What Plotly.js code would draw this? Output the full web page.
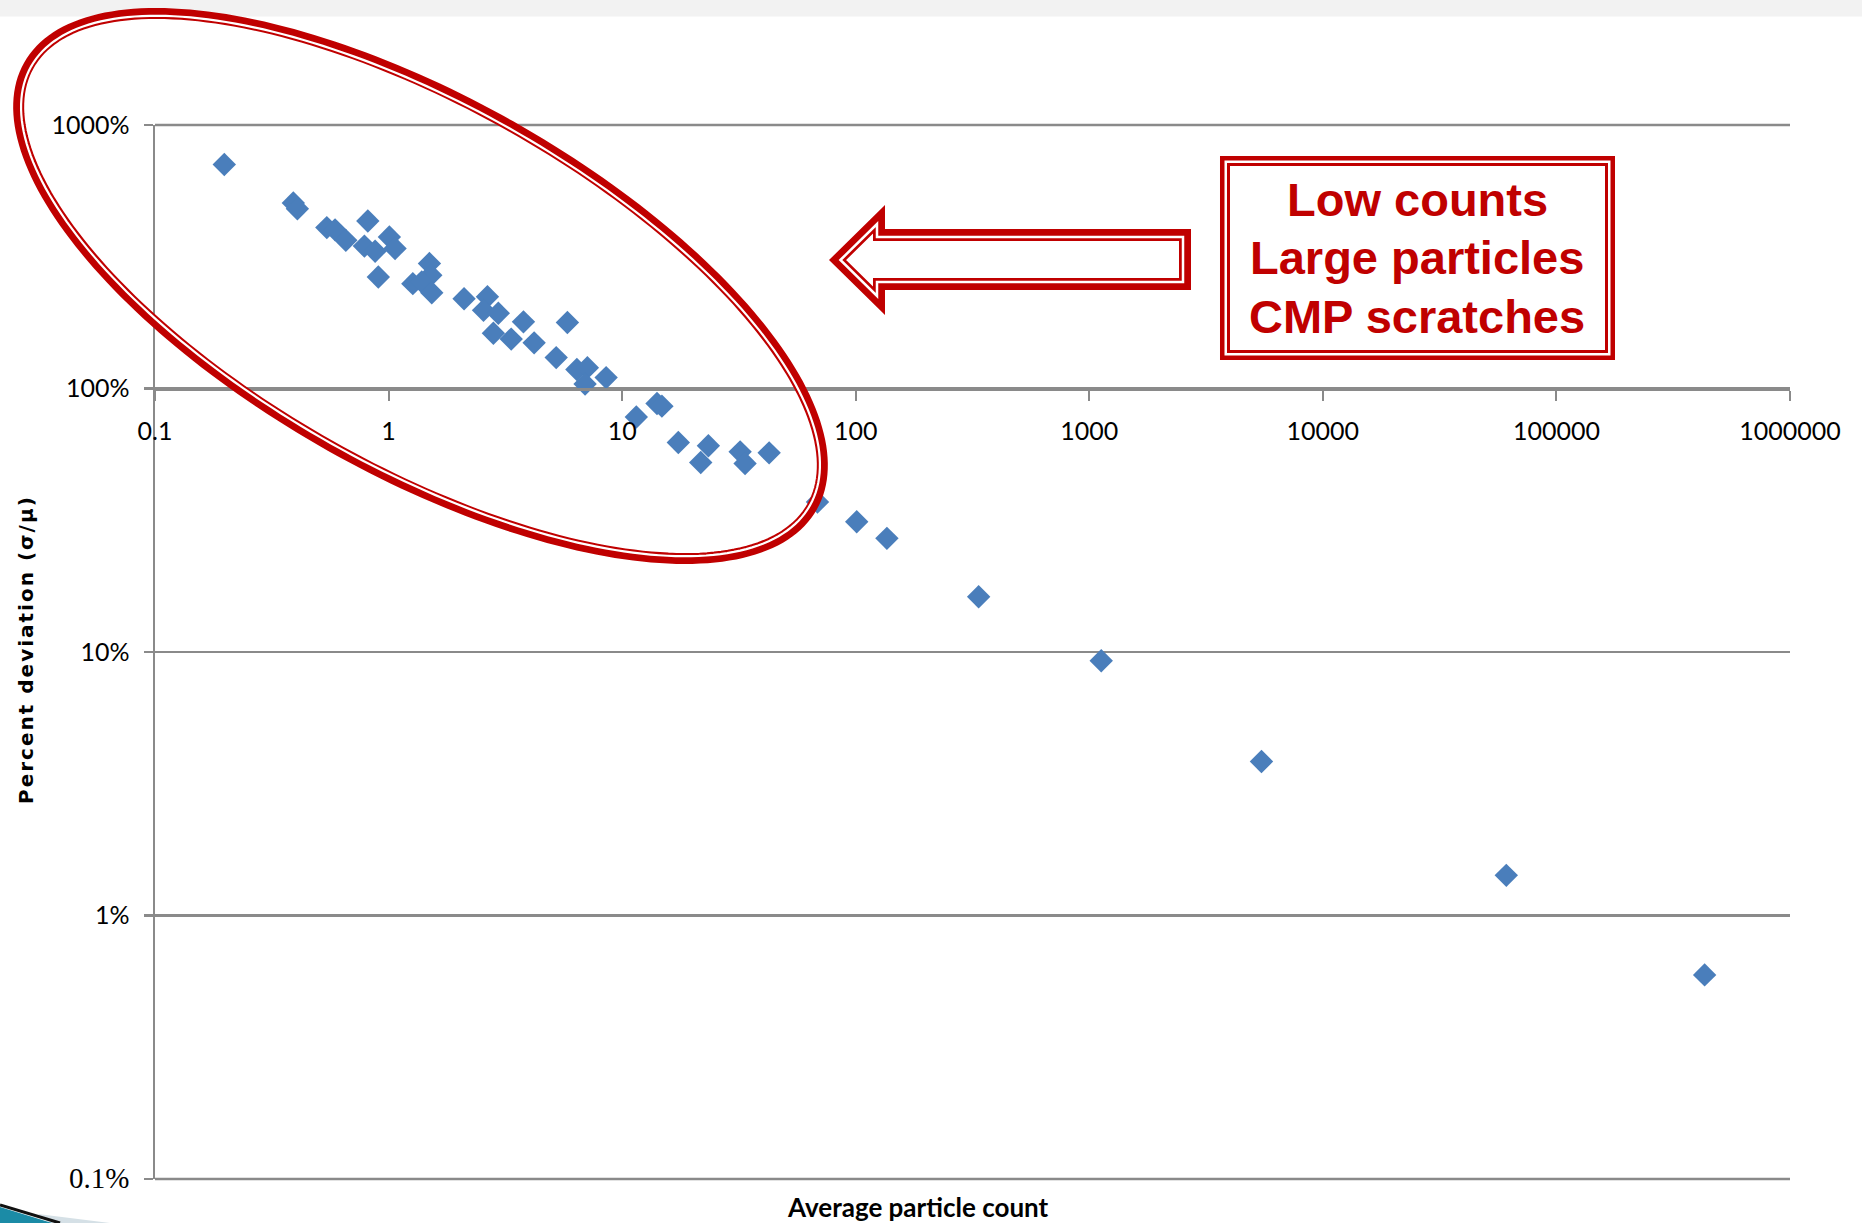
<!DOCTYPE html>
<html><head><meta charset="utf-8">
<script src="https://cdn.plot.ly/plotly-3.0.1.min.js"></script>
<style>
html,body{margin:0;padding:0;background:#fff;}
#chart{width:1862px;height:1223px;}
g.annotation[data-index="0"] text{letter-spacing:2px;}
</style>
</head><body><div id="chart"></div>
<script>
// ---- data ----
const avgCount = [0.198,0.391,0.407,0.544,0.590,0.656,0.815,0.788,0.876,0.904,1.008,1.066,1.496,1.516,1.27,1.387,1.531,2.105,2.65,2.55,2.95,2.81,3.35,3.78,4.20,5.83,5.22,6.40,7.10,6.94,8.54,11.5,14.1,14.8,17.4,23.4,21.7,32.0,33.6,42.6,68.6,101,136,336,1125,5460,61000,431000];
const pctDeviation = [708,506,481,408,400,365,432,347,332,265,376,340,298,269,250,254,231,219,223,198,193,162,154,179,149,178,131,118,120,104,110,78,87.7,85.7,62.4,60.6,52.4,57.5,51.9,57.0,37.1,31.2,27.0,16.2,9.26,3.84,1.42,0.595];
const xTickVals = [0.1,1,10,100,1000,10000,100000,1000000];
const xTickText = ["0.1","1","10","100","1000","10000","100000","1000000"];
const yTickVals = [0.1,1,10,100,1000];
const yTickText = ["<span style='font-family:Liberation Serif;font-size:29px'>0.1%</span>","1%","10%","100%","1000%"];
const calloutLines = ["Low counts","Large particles","CMP scratches"];
const xTitle = "Average particle count";
const yTitle = "Percent deviation (σ/μ)";

// ---- geometry helpers (pixel -> paper) ----
const W=1862, H=1223, M={l:155,r:72,t:125,b:44};
const PW=W-M.l-M.r, PH=H-M.t-M.b;
const px = x => (x-M.l)/PW;
const py = y => (M.t+PH-y)/PH;
function pathFrom(pts, close){
  return pts.map((p,i)=>(i?'L':'M')+px(p[0]).toFixed(5)+','+py(p[1]).toFixed(5)).join(' ')+(close?' Z':'');
}
function ellipsePts(cx,cy,a,b,deg,n){
  const th=deg*Math.PI/180, c=Math.cos(th), s=Math.sin(th), out=[];
  for(let i=0;i<n;i++){const t=2*Math.PI*i/n;
    out.push([cx+a*Math.cos(t)*c-b*Math.sin(t)*s, cy+a*Math.cos(t)*s+b*Math.sin(t)*c]);}
  return out;
}
function inset(pts,d){
  const n=pts.length; let A=0;
  for(let i=0;i<n;i++){const p=pts[i],q=pts[(i+1)%n];A+=p[0]*q[1]-q[0]*p[1];}
  const sg=A>0?1:-1;
  const lines=[];
  for(let i=0;i<n;i++){const p=pts[i],q=pts[(i+1)%n];
    let dx=q[0]-p[0],dy=q[1]-p[1];const L=Math.hypot(dx,dy);dx/=L;dy/=L;
    const nx=sg*(-dy),ny=sg*dx;
    lines.push({P:[p[0]+d*nx,p[1]+d*ny],u:[dx,dy]});}
  const out=[];
  for(let i=0;i<n;i++){const l1=lines[(i-1+n)%n],l2=lines[i];
    const cr=l1.u[0]*l2.u[1]-l1.u[1]*l2.u[0];
    const wx=l2.P[0]-l1.P[0],wy=l2.P[1]-l1.P[1];
    const t=(wx*l2.u[1]-wy*l2.u[0])/cr;
    out.push([l1.P[0]+t*l1.u[0],l1.P[1]+t*l1.u[1]]);}
  return out;
}

const RED='#c00000';
const GRAY='#8a8a8a';
const ell={cx:420.5,cy:286,a:455,b:189,ang:29.4};
const arrowOuter=[[829,260],[885,205],[885,229],[1191,229],[1191,290],[885,290],[885,315]];
const boxOuter=[[1220,156],[1615,156],[1615,360],[1220,360]];

const shapes=[
  {type:'path',xref:'paper',yref:'paper',layer:'below',path:pathFrom([[0,0],[W,0],[W,16.5],[0,16.5]],true),fillcolor:'#f2f2f2',line:{width:0}},
  // top / bottom gridlines at the range ends
  {type:'line',xref:'paper',yref:'paper',layer:'below',x0:0,x1:1,y0:1,y1:1,line:{color:GRAY,width:2.5}},
  {type:'line',xref:'paper',yref:'paper',layer:'below',x0:0,x1:1,y0:0,y1:0,line:{color:GRAY,width:2.5}},
  // corner decoration
  {type:'path',xref:'paper',yref:'paper',layer:'above',path:pathFrom([[38,1214],[110,1223],[50,1223]],true),fillcolor:'#d5e0e6',line:{width:0}},
  {type:'path',xref:'paper',yref:'paper',layer:'above',path:pathFrom([[0,1207],[52,1223],[0,1223]],true),fillcolor:'#1b8ba6',line:{width:0}},
  {type:'path',xref:'paper',yref:'paper',layer:'above',path:pathFrom([[0,1205],[60,1223]],false),line:{color:'#111',width:3}},
  // ellipse (double line)
  {type:'path',xref:'paper',yref:'paper',path:pathFrom(ellipsePts(ell.cx,ell.cy,ell.a-5.5,ell.b-5.5,ell.ang,240),true),line:{color:RED,width:11}},
  {type:'path',xref:'paper',yref:'paper',path:pathFrom(ellipsePts(ell.cx,ell.cy,ell.a-8,ell.b-8,ell.ang,240),true),line:{color:'#fff',width:2.2}},
  // arrow (double line)
  {type:'path',xref:'paper',yref:'paper',path:pathFrom(inset(arrowOuter,6),true),fillcolor:'#fff',line:{color:RED,width:12}},
  {type:'path',xref:'paper',yref:'paper',path:pathFrom(inset(arrowOuter,8),true),line:{color:'#fff',width:2.5}},
  // box (double line)
  {type:'path',xref:'paper',yref:'paper',path:pathFrom(inset(boxOuter,5),true),fillcolor:'#fff',line:{color:RED,width:10}},
  {type:'path',xref:'paper',yref:'paper',path:pathFrom(inset(boxOuter,5.75),true),line:{color:'#fff',width:2.5}}
];

const lineY=[199,257.5,316];
const annotations=[
  {text:yTitle,xref:'paper',yref:'paper',x:px(26),y:py(650),xanchor:'center',yanchor:'middle',textangle:-90,showarrow:false,font:{family:'DejaVu Sans',size:20,weight:'bold',color:'#000'}},
  {text:xTitle,xref:'paper',yref:'paper',x:px(918),y:py(1207),xanchor:'center',yanchor:'middle',showarrow:false,font:{family:'Lato',size:26,weight:'bold',color:'#000'}}
].concat(calloutLines.map((t,i)=>({text:t,xref:'paper',yref:'paper',x:px(1417),y:py(lineY[i]),xanchor:'center',yanchor:'middle',showarrow:false,
  font:{family:'Liberation Sans, Arial',size:47,weight:'bold',color:RED}})));

const layout={
  width:W,height:H,margin:M,paper_bgcolor:'#fff',plot_bgcolor:'#fff',showlegend:false,
  xaxis:{type:'log',range:[-1,6],anchor:'free',position:0.75,tickvals:xTickVals,ticktext:xTickText,
    ticks:'outside',ticklen:10,tickwidth:2,tickcolor:GRAY,showline:true,linecolor:GRAY,linewidth:3,
    showgrid:false,zeroline:false,tickfont:{family:'Lato',size:25,color:'#000'},ticklabelstandoff:9},
  yaxis:{type:'log',range:[-1,3],tickvals:yTickVals,ticktext:yTickText,
    ticks:'outside',ticklen:9,tickwidth:2.5,tickcolor:GRAY,showline:true,linecolor:GRAY,linewidth:2.5,
    showgrid:true,gridcolor:GRAY,gridwidth:2.5,zeroline:false,tickfont:{family:'Lato',size:25,color:'#000'},ticklabelstandoff:9},
  shapes:shapes,annotations:annotations
};
const trace={x:avgCount,y:pctDeviation,type:'scatter',mode:'markers',
  marker:{symbol:'diamond',size:18,color:'#4a7ebb',line:{width:0}},hoverinfo:'x+y'};
Plotly.newPlot('chart',[trace],layout,{displayModeBar:false,staticPlot:true});
</script></body></html>
